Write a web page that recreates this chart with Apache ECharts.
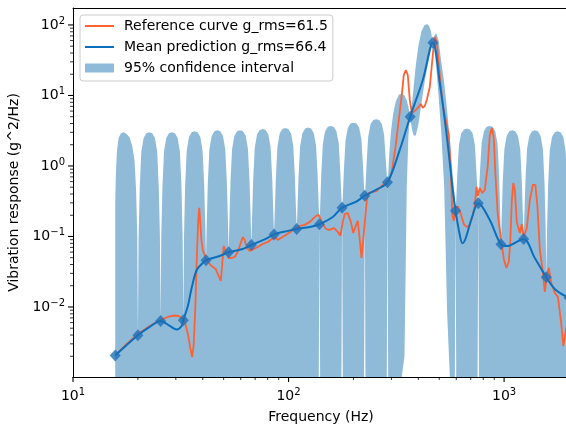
<!DOCTYPE html>
<html><head><meta charset="utf-8">
<script src="https://cdn.jsdelivr.net/npm/echarts@6/dist/echarts.min.js"></script>
<style>html,body{margin:0;padding:0;background:#fff}#c{width:566px;height:427px}</style>
</head><body><div id="c"></div>
<script>
// ---- axis ranges ----
const xMin = 10, xMax = 2000;
const yMin = 1.016e-3, yMax = 174;

// ---- training points (diamonds) ----
const markerFreq = [15.7, 20.01, 25.49, 32.49, 41.4, 52.75, 67.21, 85.63, 109.1, 139.1, 177.2, 225.8, 287.7, 366.6, 467.2, 595.3, 758.9, 966.8, 1232, 1570, 2000];
const markerValue = [0.00205, 0.00397, 0.00633, 0.0065, 0.046, 0.0597, 0.0758, 0.107, 0.128, 0.149, 0.256, 0.379, 0.587, 5.0, 56.1, 0.232, 0.296, 0.0775, 0.0922, 0.0264, 0.0135];

// ---- mean prediction curve ----
const meanFreq = [15.7, 17.75, 20.01, 22.7, 25.49, 28.1, 30.3, 31.9, 32.49, 34.1, 35.6, 37.5, 40.0, 41.4, 47.9, 52.75, 61.3, 67.21, 78.4, 85.63, 99.2, 109.1, 125.5, 139.1, 160.4, 177.2, 205, 225.8, 259.4, 287.7, 328, 366.6, 419.5, 467.2, 503, 540, 578, 595.3, 623, 641, 664, 708, 758.9, 858, 966.8, 1040, 1121, 1232, 1388, 1570, 1738, 2000];
const meanValue = [0.00205, 0.00289, 0.00397, 0.00521, 0.00633, 0.00538, 0.0048, 0.00538, 0.0065, 0.0103, 0.0192, 0.0335, 0.0421, 0.046, 0.0529, 0.0597, 0.0665, 0.0758, 0.0922, 0.107, 0.120, 0.128, 0.136, 0.149, 0.189, 0.256, 0.309, 0.379, 0.472, 0.587, 1.69, 5.0, 16.6, 56.1, 15.0, 2.94, 0.457, 0.232, 0.105, 0.080, 0.0952, 0.183, 0.296, 0.171, 0.0775, 0.0733, 0.0809, 0.0922, 0.0495, 0.0264, 0.0174, 0.0135];

// ---- reference curve ----
const refFreq = [15.7,17.75,20.0,22.7,25.9,27.5,29.3,30.9,32.3,33.3,34.2,35.0,35.7,36.3,36.9,37.5,38.1,38.5,38.9,39.4,40.0,41.3,42.6,44.0,45.9,47.4,48.5,49.2,50.0,50.8,51.7,52.8,54.5,56.3,58.1,60.0,61.3,62.6,64.0,66.1,69.0,71.9,75.9,80.1,83.6,86.3,89.1,92.0,97.1,103.5,108.0,112.7,118.9,125.5,133.7,138.1,142.6,148.8,155.3,162.2,169.2,173.8,178.5,182.4,188.3,194.4,199.6,205.0,209.5,214.0,218.0,221.0,225.8,230.7,235.6,245.9,256.7,267.9,279.6,291.6,301.2,314.4,324.7,335.2,342.4,349.9,357.4,365.1,373.0,385.2,397.8,410.7,419.5,428.5,437.8,452.1,466.8,476.9,487.2,503.0,519.4,536.3,553.8,565.8,574.9,584.3,597.0,613.1,629.7,650.2,671.4,693.2,715.8,731.3,744.7,755.1,771.4,792.3,813.7,840.2,858.4,876.9,895.8,910.3,934.9,965.4,996.8,1024,1051,1069,1086,1103,1121,1145,1183,1208,1234,1274,1316,1359,1396,1426,1465,1512,1545,1578,1612,1656,1719,1776,1833,1883,1934,2000];
const refValue = [0.00208,0.00299,0.00414,0.00538,0.00668,0.00722,0.00757,0.00745,0.00676,0.00555,0.00401,0.00262,0.00195,0.00289,0.00906,0.0464,0.171,0.254,0.171,0.0892,0.0644,0.0495,0.0421,0.0381,0.0346,0.0275,0.0234,0.0394,0.0733,0.0687,0.0565,0.0495,0.0495,0.0512,0.0603,0.0809,0.0984,0.0892,0.0687,0.0623,0.0665,0.0710,0.0783,0.0836,0.0922,0.0984,0.0892,0.0952,0.105,0.120,0.132,0.141,0.146,0.161,0.195,0.202,0.161,0.128,0.124,0.132,0.116,0.102,0.161,0.209,0.215,0.161,0.112,0.141,0.166,0.0892,0.0495,0.0758,0.161,0.329,0.414,0.428,0.442,0.504,0.574,0.612,0.822,1.99,4.49,10.2,19.5,23.0,19.5,8.64,5.65,6.03,6.65,7.57,6.65,7.10,8.64,13.2,37.5,67.6,57.4,19.5,7.33,4.49,2.75,0.878,0.202,0.166,0.262,0.262,0.209,0.150,0.136,0.146,0.202,0.280,0.504,0.375,0.487,0.414,0.457,1.03,2.75,3.46,2.50,0.796,0.202,0.0952,0.0480,0.0357,0.0435,0.0892,0.329,0.574,0.457,0.161,0.112,0.150,0.0984,0.132,0.329,0.538,0.538,0.280,0.0644,0.0314,0.0163,0.0284,0.0357,0.0219,0.0158,0.0139,0.00654,0.0028,0.0047,0.008];

// ---- 95% confidence band: sample positions inside each marker-to-marker span ----
const lobeT = [0, 0.03, 0.08, 0.15, 0.25, 0.37, 0.5, 0.63, 0.75, 0.85, 0.92, 0.97];
const N = null; // lower bound below the axis
const bandUpper = [
  [0.3, 0.8, 1.7, 2.5, 2.9, 3.0, 2.85, 2.55, 1.9, 1.2, 0.45, 0.1],
  [0.004, 0.1, 0.5, 1.6, 2.5, 2.9, 3.0, 2.9, 2.5, 1.6, 0.5, 0.1],
  [0.0063, 0.1, 0.5, 1.6, 2.5, 2.9, 3.0, 2.9, 2.5, 1.6, 0.5, 0.1],
  [0.0065, 0.1, 0.52, 1.65, 2.58, 3.0, 3.1, 3.0, 2.58, 1.65, 0.54, 0.14],
  [0.046, 0.14, 0.58, 1.72, 2.67, 3.1, 3.2, 3.1, 2.67, 1.72, 0.58, 0.16],
  [0.0597, 0.16, 0.6, 1.73, 2.67, 3.1, 3.2, 3.1, 2.68, 1.74, 0.6, 0.18],
  [0.0758, 0.18, 0.63, 1.82, 2.8, 3.25, 3.35, 3.25, 2.8, 1.83, 0.66, 0.21],
  [0.107, 0.21, 0.68, 1.88, 2.88, 3.35, 3.45, 3.35, 2.88, 1.9, 0.7, 0.23],
  [0.128, 0.23, 0.7, 1.92, 2.92, 3.4, 3.5, 3.4, 2.93, 1.95, 0.73, 0.26],
  [0.149, 0.25, 0.76, 2.03, 3.1, 3.6, 3.7, 3.6, 3.12, 2.1, 0.83, 0.36],
  [0.256, 0.36, 0.9, 2.3, 3.45, 4.0, 4.1, 4.0, 3.5, 2.4, 1.0, 0.48],
  [0.379, 0.5, 1.1, 2.6, 3.9, 4.5, 4.6, 4.5, 3.95, 2.8, 1.3, 0.75],
  [0.587, 0.75, 1.5, 3.0, 5.5, 8.3, 10.2, 10.7, 10.0, 8.5, 7.0, 5.6],
  [5.0, 5.6, 7.5, 13, 27, 52, 82, 99, 103, 95, 80, 62],
  [56.1, 62, 72, 76, 60, 30, 15, 6, 2.3, 0.9, 0.5, 0.35],
  [0.232, 0.33, 0.8, 2.0, 2.9, 3.3, 3.4, 3.3, 2.9, 2.0, 0.8, 0.4],
  [0.296, 0.4, 0.9, 2.15, 3.1, 3.6, 3.7, 3.6, 3.1, 2.05, 0.72, 0.2],
  [0.0775, 0.17, 0.6, 1.73, 2.67, 3.1, 3.2, 3.1, 2.67, 1.73, 0.6, 0.19],
  [0.0922, 0.19, 0.62, 1.74, 2.67, 3.1, 3.2, 3.1, 2.67, 1.72, 0.57, 0.13],
  [0.0264, 0.12, 0.54, 1.66, 2.58, 3.0, 3.1, 3.0, 2.58, 1.65, 0.53, 0.11]
];
const bandUpperEnd = 0.0135;
const bandLower = [
  [N,N,N,N,N,N,N,N,N,N,N,N],
  [N,N,N,N,N,N,N,N,N,N,N,N],
  [N,N,N,N,N,N,N,N,N,N,N,N],
  [N,N,N,N,N,N,N,N,N,N,N,N],
  [N,N,N,N,N,N,N,N,N,N,N,N],
  [N,N,N,N,N,N,N,N,N,N,N,N],
  [N,N,N,N,N,N,N,N,N,N,N,N],
  [N,N,N,N,N,N,N,N,N,N,N,N],
  [N,N,N,N,N,N,N,N,N,N,N,N],
  [0.149,N,N,N,N,N,N,N,N,N,N,N],
  [0.256,N,N,N,N,N,N,N,N,N,N,N],
  [0.379,N,N,N,N,N,N,N,N,N,N,N],
  [0.587,N,N,N,N,N,N,N,0.002,0.5,2.5,4.3],
  [5.0, 4.2, 3.3, 2.7, 2.7, 4, 8, 15, 25, 35, 45, 52],
  [56.1, 50, 40, 25, 10, 3, 0.5, 0.008, N, N, N, N],
  [0.232,N,N,N,N,N,N,N,N,N,N,N],
  [0.296,N,N,N,N,N,N,N,N,N,N,N],
  [N,N,N,N,N,N,N,N,N,N,N,N],
  [N,N,N,N,N,N,N,N,N,N,N,N],
  [N,N,N,N,N,N,N,N,N,N,N,N]
];
const bandLowerEnd = N;

// ---- tick values ----
const xMajorTicks = [10, 100, 1000];
const xMinorTicks = [20,30,40,50,60,70,80,90,200,300,400,500,600,700,800,900];
const yMajorTicks = [0.01, 0.1, 1, 10, 100];
const yMinorTicks = [0.002,0.003,0.004,0.005,0.006,0.007,0.008,0.009,0.02,0.03,0.04,0.05,0.06,0.07,0.08,0.09,0.2,0.3,0.4,0.5,0.6,0.7,0.8,0.9,2,3,4,5,6,7,8,9,20,30,40,50,60,70,80,90];

// ---- labels ----
const refName = 'Reference curve g_rms=61.5';
const meanName = 'Mean prediction g_rms=66.4';
const bandName = '95% confidence interval';

const FONT = 'DejaVu Sans';
const REF_COLOR = '#ff6132', MEAN_COLOR = '#0a6fbd', BAND_COLOR = 'rgba(31,119,180,0.5)';
const zip = (a, b) => a.map((v, i) => [v, b[i]]);

function bandPts(rows, endVal) {
  const pts = [];
  for (let i = 0; i < rows.length; i++) {
    const f0 = markerFreq[i], f1 = markerFreq[i + 1];
    for (let j = 0; j < lobeT.length; j++) {
      pts.push([f0 * Math.pow(f1 / f0, lobeT[j]), rows[i][j]]);
    }
  }
  pts.push([markerFreq[markerFreq.length - 1], endVal]);
  return pts;
}
const upperPts = bandPts(bandUpper, bandUpperEnd);
const lowerPts = bandPts(bandLower, bandLowerEnd);

function supLabel(v) {
  const e = Math.round(Math.log10(v));
  if (Math.abs(v - Math.pow(10, e)) / Math.pow(10, e) > 1e-6) return '';
  return '{b|10}{s|' + (e < 0 ? '\u2212' + (-e) : e) + '}';
}
const richLab = {
  b: { fontSize: 14, fontFamily: FONT, color: '#000', lineHeight: 18, verticalAlign: 'middle' },
  s: { fontSize: 10, fontFamily: FONT, color: '#000', verticalAlign: 'top' }
};

const tickData = [];
xMajorTicks.forEach(v => tickData.push([v, yMin, 0]));
xMinorTicks.forEach(v => tickData.push([v, yMin, 1]));
yMajorTicks.forEach(v => tickData.push([xMin, v, 2]));
yMinorTicks.forEach(v => tickData.push([xMin, v, 3]));

const lineIcon = 'path://M0,0H29V2H0Z';

const chart = echarts.init(document.getElementById('c'), null, { renderer: 'canvas' });
chart.setOption({
  animation: false,
  backgroundColor: '#fff',
  grid: { left: 73, top: 8, width: 496, height: 369, containLabel: false, outerBoundsMode: 'none' },
  legend: {
    orient: 'vertical', left: 80, top: 15, selectedMode: false,
    itemWidth: 29, itemHeight: 9, itemGap: 5,
    padding: [3, 5, 5, 5],
    backgroundColor: 'rgba(255,255,255,0.8)', borderColor: '#cccccc', borderWidth: 1, borderRadius: 3,
    textStyle: { fontSize: 14, fontFamily: FONT, color: '#000', lineHeight: 16, padding: [0, 0, 0, 5] },
    data: [
      { name: refName, icon: lineIcon, itemStyle: { color: REF_COLOR } },
      { name: meanName, icon: lineIcon, itemStyle: { color: MEAN_COLOR } },
      { name: bandName, icon: 'rect', itemStyle: { color: BAND_COLOR } }
    ]
  },
  xAxis: [{
    type: 'log', logBase: 10, min: xMin, max: xMax,
    name: 'Frequency (Hz)', nameLocation: 'middle', nameGap: 33,
    nameTextStyle: { fontSize: 14, fontFamily: FONT, color: '#000' },
    axisLine: { show: true, onZero: false, lineStyle: { color: '#000', width: 1 } },
    axisTick: { show: false }, splitLine: { show: false },
    axisLabel: { interval: 0, margin: 10, formatter: supLabel, rich: richLab, showMinLabel: true, showMaxLabel: true },
    z: 10
  }, {
    type: 'log', logBase: 10, min: xMin, max: xMax, position: 'top',
    axisLine: { show: true, onZero: false, lineStyle: { color: '#000', width: 1 } },
    axisTick: { show: false }, axisLabel: { show: false }, splitLine: { show: false }, z: 10
  }],
  yAxis: {
    type: 'log', logBase: 10, min: yMin, max: yMax,
    name: 'Vibration response (g^2/Hz)', nameLocation: 'middle', nameGap: 45,
    nameTextStyle: { fontSize: 14, fontFamily: FONT, color: '#000' },
    axisLine: { show: true, onZero: false, lineStyle: { color: '#000', width: 1 } },
    axisTick: { show: false }, splitLine: { show: false },
    axisLabel: { interval: 0, margin: 8, formatter: supLabel, rich: richLab },
    z: 10
  },
  series: [
    {
      name: bandName, type: 'custom', z: 1, silent: true,
      itemStyle: { color: BAND_COLOR },
      data: [[100, 1]], encode: { x: 0, y: 1 },
      renderItem: function (params, api) {
        const pts = [];
        upperPts.forEach(p => pts.push(api.coord([p[0], p[1]])));
        for (let i = lowerPts.length - 1; i >= 0; i--) {
          const p = lowerPts[i];
          pts.push(api.coord([p[0], p[1] == null ? yMin : p[1]]));
        }
        return { type: 'polygon', shape: { points: pts }, style: { fill: BAND_COLOR } };
      }
    },
    {
      name: refName, type: 'line', z: 3, data: zip(refFreq, refValue),
      showSymbol: false, symbol: 'none', smooth: false,
      lineStyle: { color: REF_COLOR, width: 1.8 }, itemStyle: { color: REF_COLOR }
    },
    {
      name: meanName, type: 'line', z: 4, data: zip(meanFreq, meanValue),
      showSymbol: false, symbol: 'none', smooth: 0.35,
      lineStyle: { color: MEAN_COLOR, width: 2 }, itemStyle: { color: MEAN_COLOR }
    },
    {
      name: 'training', type: 'scatter', z: 5, data: zip(markerFreq, markerValue),
      symbol: 'diamond', symbolSize: [11, 12], itemStyle: { color: '#1f6fb5' }
    },
    {
      name: 'ticks', type: 'custom', z: 12, silent: true, clip: false,
      data: tickData, encode: { x: 0, y: 1 },
      renderItem: function (params, api) {
        const kind = api.value(2);
        const c = api.coord([api.value(0), api.value(1)]);
        const major = kind === 0 || kind === 2;
        const len = major ? 5 : 3;
        const w = major ? 1.1 : 0.8;
        let shape;
        if (kind < 2) shape = { x1: c[0], y1: c[1], x2: c[0], y2: c[1] + len };
        else shape = { x1: c[0], y1: c[1], x2: c[0] - len, y2: c[1] };
        return { type: 'line', shape: shape, style: { stroke: '#000', lineWidth: w } };
      }
    }
  ]
});
</script>
</body></html>
